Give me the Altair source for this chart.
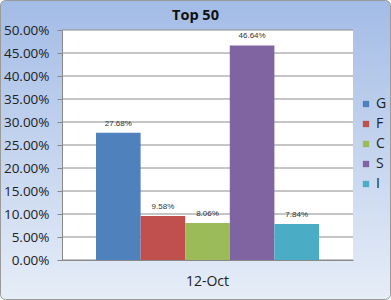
import altair as alt
import pandas as pd

title_text = "Top 50"
series = ["G", "F", "C", "S", "I"]
values = [0.2768, 0.0958, 0.0806, 0.4664, 0.0784]
dates = ["12-Oct"] * 5
colors = ["#4f81bd", "#c0504d", "#9bbb59", "#8064a2", "#4bacc6"]
y_ticks = [0, 0.05, 0.10, 0.15, 0.20, 0.25, 0.30, 0.35, 0.40, 0.45, 0.50]

df = pd.DataFrame({"date": dates, "series": series, "value": values})
grid_df = pd.DataFrame({"value": y_ticks})

W, H = 291, 230

bg = alt.Chart(pd.DataFrame({"a": [0]})).mark_rect(
    fill=alt.Gradient(
        gradient="linear",
        stops=[alt.GradientStop(color="#a3bce6", offset=0),
               alt.GradientStop(color="#e6edf7", offset=1)],
        x1=0, x2=0, y1=0, y2=1,
    ),
    stroke="#9a9a9a", strokeWidth=1, cornerRadius=5,
).encode(
    x=alt.value(-61.5), x2=alt.value(W + 37.5),
    y=alt.value(-29.5), y2=alt.value(H + 39.5),
)

plotbg = alt.Chart(pd.DataFrame({"a": [0]})).mark_rect(fill="white").encode(
    x=alt.value(0), x2=alt.value(W), y=alt.value(0), y2=alt.value(H)
)

title = alt.Chart(pd.DataFrame({"t": [title_text]})).mark_text(
    font="Open Sans", fontSize=14.5, fontWeight="bold", color="#111",
    align="center", baseline="middle",
).encode(text="t:N", x=alt.value(W / 2 - 12), y=alt.value(-14))

yscale = alt.Scale(domain=[0, 0.5], nice=False)
yaxis = alt.Axis(format=".2%", values=y_ticks, labelFontSize=13.5,
                 labelColor="#222", labelPadding=8, tickSize=5,
                 tickColor="#888", domainColor="#888",
                 grid=False, zindex=1)

grid = alt.Chart(grid_df).mark_rule(color="#8c8c8c", strokeWidth=1).encode(
    y=alt.Y("value:Q", scale=yscale, axis=yaxis, title=None),
    x=alt.value(0), x2=alt.value(W),
)

xenc = alt.X("date:N", title=None,
             scale=alt.Scale(paddingInner=0, paddingOuter=0.1525),
             axis=alt.Axis(labelAngle=0, labelFontSize=14, labelColor="#222",
                           labelPadding=14, ticks=False, domainColor="#888",
                           zindex=1))
xoff = alt.XOffset("series:N", sort=series, scale=alt.Scale(paddingInner=0, paddingOuter=0))

base = alt.Chart(df).encode(
    x=xenc,
    xOffset=xoff,
    y=alt.Y("value:Q", title=None, scale=yscale, axis=yaxis),
)

bars = base.mark_bar(size=44.6).encode(
    color=alt.Color("series:N", sort=series,
                    scale=alt.Scale(domain=series, range=colors),
                    legend=alt.Legend(title=None, orient="none", legendX=297, legendY=67,
                                      symbolType="square", symbolSize=40,
                                      symbolStrokeWidth=0, labelFontSize=14,
                                      labelFont="Open Sans",
                                      labelColor="#222", rowPadding=6,
                                      labelOffset=3, zindex=1)),
)

labels = base.mark_text(dy=-5, fontSize=8, color="#333", baseline="bottom").encode(
    text=alt.Text("value:Q", format=".2%")
)

chart = alt.layer(bg, plotbg, grid, bars, labels, title).properties(
    width=W, height=H,
    autosize=alt.AutoSizeParams(type="none"),
    padding={"left": 62, "top": 30, "right": 38, "bottom": 40},
).configure_view(stroke=None).configure(font="Liberation Sans").configure_axis(
    labelFont="Open Sans")

chart.save("out.html", embed_options={"renderer": "svg", "actions": False})
